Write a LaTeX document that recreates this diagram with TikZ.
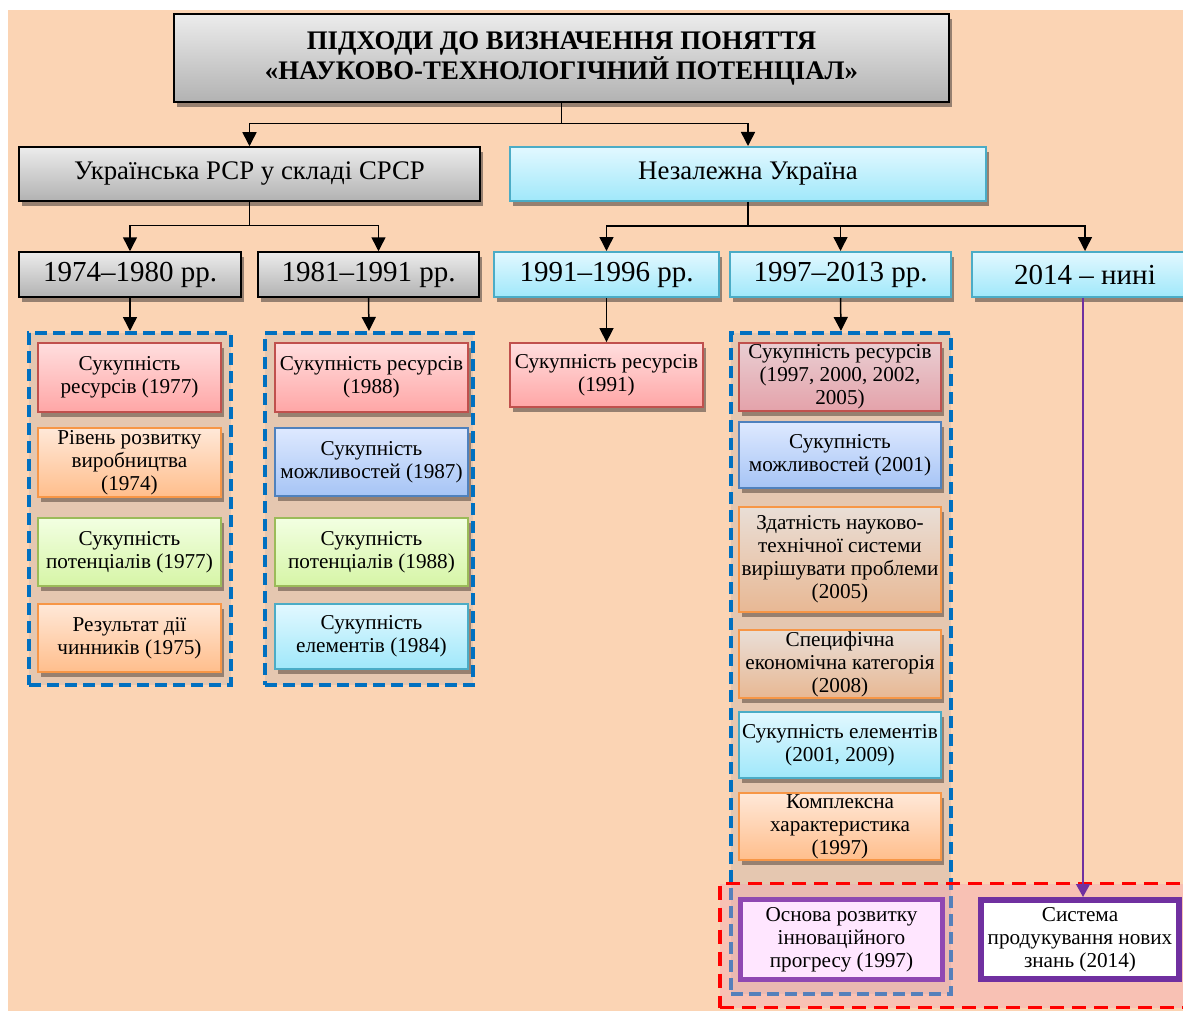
\documentclass[tikz,border=0pt]{standalone}
\usepackage{fontspec}
\setmainfont{Liberation Serif}
\usetikzlibrary{arrows.meta,shadows,calc}
\definecolor{bgpeach}{RGB}{251,212,180}
\definecolor{grpfill}{RGB}{229,199,176}
\definecolor{grpblue}{RGB}{0,112,192}
\definecolor{shadowc}{RGB}{150,128,112}
\definecolor{gtop}{RGB}{236,236,236}
\definecolor{gbot}{RGB}{178,178,178}
\definecolor{ctop}{RGB}{226,248,255}
\definecolor{cbot}{RGB}{160,232,250}
\definecolor{cyanb}{RGB}{75,172,198}
\definecolor{rtop}{RGB}{255,222,222}
\definecolor{rbot}{RGB}{255,166,166}
\definecolor{redb}{RGB}{192,80,77}
\definecolor{otop}{RGB}{255,232,216}
\definecolor{obot}{RGB}{255,190,140}
\definecolor{orab}{RGB}{247,150,70}
\definecolor{gntop}{RGB}{242,255,226}
\definecolor{gnbot}{RGB}{214,245,166}
\definecolor{greenb}{RGB}{155,187,89}
\definecolor{btop}{RGB}{222,233,255}
\definecolor{bbot}{RGB}{166,196,245}
\definecolor{blueb}{RGB}{79,129,189}
\definecolor{mrtop}{RGB}{233,206,210}
\definecolor{mrbot}{RGB}{228,162,170}
\definecolor{motop}{RGB}{233,222,214}
\definecolor{mobot}{RGB}{232,184,148}
\definecolor{redfill}{RGB}{245,160,180}
\definecolor{purp1}{RGB}{143,72,178}
\definecolor{purp2}{RGB}{112,48,160}
\definecolor{pinkfill}{RGB}{255,230,255}
\begin{document}
\begin{tikzpicture}[x=1pt,y=-1pt,
  box/.style={draw, align=center, inner sep=2pt,
    drop shadow={shadow xshift=2.5pt, shadow yshift=-5pt, fill=shadowc, opacity=1}},
  graybox/.style={box, draw=black, line width=1.5pt, top color=gtop, bottom color=gbot},
  cyanbox/.style={box, draw=cyanb, line width=2pt, top color=ctop, bottom color=cbot},
  item/.style={box, inner sep=1pt, line width=1.8pt, font=\fontsize{21.2}{23}\selectfont},
  redi/.style={item, draw=redb, top color=rtop, bottom color=rbot},
  orai/.style={item, draw=orab, top color=otop, bottom color=obot},
  grni/.style={item, draw=greenb, top color=gntop, bottom color=gnbot},
  blui/.style={item, draw=blueb, top color=btop, bottom color=bbot},
  cyni/.style={item, draw=cyanb, top color=ctop, bottom color=cbot},
  mredi/.style={item, draw=redb, top color=mrtop, bottom color=mrbot},
  morai/.style={item, draw=orab, top color=motop, bottom color=mobot},
  grp/.style={draw=grpblue, fill=grpfill, line width=4pt, dash pattern=on 12pt off 6pt, inner sep=0pt},
  yearf/.style={font=\fontsize{29}{32}\selectfont},
  arr/.style={line width=1.5pt, -{Triangle[width=14pt,length=14pt]}},
  ln/.style={line width=1.5pt},
  purpbox/.style={draw, line width=5pt, align=center, inner sep=1pt, font=\fontsize{21.2}{23}\selectfont}
]
\useasboundingbox (0,0) rectangle (1183,1011);
\fill[white] (0,0) rectangle (1183,1011);
\fill[bgpeach] (8,10) rectangle (1183,1011);

% title and top level
\node[graybox, minimum width=775, minimum height=88, font=\bfseries\fontsize{26.8}{30}\selectfont] (title) at (561.5,58)
  {ПІДХОДИ ДО ВИЗНАЧЕННЯ ПОНЯТТЯ\\«НАУКОВО-ТЕХНОЛОГІЧНИЙ ПОТЕНЦІАЛ»};
\node[graybox, minimum width=461, minimum height=54, font=\fontsize{26.8}{30}\selectfont] (ussr) at (249.5,174) {Українська РСР у складі СРСР};
\node[cyanbox, minimum width=476, minimum height=54, font=\fontsize{26.8}{30}\selectfont] (indep) at (748,174) {Незалежна Україна};

% years
\node[graybox, yearf, minimum width=222, minimum height=45] (y1) at (130,274.5) {1974–1980 рр.};
\node[graybox, yearf, minimum width=221, minimum height=45] (y2) at (368.5,274.5) {1981–1991 рр.};
\node[cyanbox, yearf, minimum width=225, minimum height=45] (y3) at (606.5,274.5) {1991–1996 рр.};
\node[cyanbox, yearf, minimum width=221, minimum height=45] (y4) at (840.5,274.5) {1997–2013 рр.};
\node[cyanbox, yearf, minimum width=226, minimum height=45] (y5) at (1085,274.5) {2014 – нині};

% connectors top
\coordinate (t1) at ($(title.south)+(0,21)$);
\draw[ln] (title.south) -- (t1);
\draw[arr] (t1) -| (ussr.north);
\draw[arr] (t1) -| (indep.north);
\coordinate (u1) at ($(ussr.south)+(0,24)$);
\draw[ln] (ussr.south) -- (u1);
\draw[arr] (u1) -| (y1.north);
\draw[arr] (u1) -| ([xshift=10pt]y2.north);
\coordinate (n1) at ($(indep.south)+(0,24)$);
\draw[ln] (indep.south) -- (n1);
\draw[arr] (n1) -| (y3.north);
\draw[arr] (n1) -| (y4.north);
\draw[arr] (n1) -| (y5.north);

% groups
\node[grp, minimum width=202, minimum height=352] (g1) at (130,509) {};
\node[grp, minimum width=208, minimum height=352] (g2) at (369,509) {};
\node[grp, minimum width=220, minimum height=661] (g4) at (841,663.5) {};

\draw[arr] (y1.south) -- (g1.north);
\draw[arr] (y2.south) -- (g2.north);
\draw[arr] (y4.south) -- (g4.north);

% group 1 items
\node[redi, minimum width=183, minimum height=69] (a1) at (129.5,377.5) {Сукупність\\ресурсів (1977)};
\node[orai, minimum width=183, minimum height=69] (a2) at (129.5,462.5) {Рівень розвитку\\виробництва\\(1974)};
\node[grni, minimum width=183, minimum height=68] (a3) at (129.5,552) {Сукупність\\потенціалів (1977)};
\node[orai, minimum width=183, minimum height=68] (a4) at (129.5,638) {Результат дії\\чинників (1975)};

% group 2 items
\node[redi, minimum width=193, minimum height=69] (b1) at (371.5,377.5) {Сукупність ресурсів\\(1988)};
\node[blui, minimum width=193, minimum height=68] (b2) at (371.5,462) {Сукупність\\можливостей (1987)};
\node[grni, minimum width=193, minimum height=68] (b3) at (371.5,552) {Сукупність\\потенціалів (1988)};
\node[cyni, minimum width=193, minimum height=65] (b4) at (371.5,636.5) {Сукупність\\елементів (1984)};

% 1991-1996
\node[redi, minimum width=193, minimum height=64] (c1) at (606.5,375) {Сукупність ресурсів\\(1991)};
\draw[arr] (y3.south) -- (c1.north);

% group 4 items
\node[mredi, minimum width=202, minimum height=68] (d1) at (840,377) {Сукупність ресурсів\\(1997, 2000, 2002,\\2005)};
\node[blui, minimum width=202, minimum height=66] (d2) at (840,455) {Сукупність\\можливостей (2001)};
\node[morai, minimum width=202, minimum height=105] (d3) at (840,559.5) {Здатність науково-\\технічної системи\\вирішувати проблеми\\(2005)};
\node[morai, minimum width=202, minimum height=66] (d4) at (840,664) {Специфічна\\економічна категорія\\(2008)};
\node[cyni, minimum width=202, minimum height=66] (d5) at (840,745) {Сукупність елементів\\(2001, 2009)};
\node[orai, minimum width=202, minimum height=67] (d6) at (840,826.5) {Комплексна\\характеристика\\(1997)};

% red dashed region
\node[draw=red, line width=3.5pt, dash pattern=on 14pt off 8pt, fill=redfill, fill opacity=0.35, minimum width=476, minimum height=124, inner sep=0pt] (rz) at (958,945.5) {};

% bottom purple boxes
\node[purpbox, draw=purp1, fill=pinkfill, minimum width=202, minimum height=80] (p1) at (841.5,939.5) {Основа розвитку\\інноваційного\\прогресу (1997)};
\node[purpbox, draw=purp2, line width=6pt, fill=white, minimum width=198, minimum height=79] (p2) at (1080,939.5) {Система\\продукування нових\\знань (2014)};

\draw[purp2, line width=1.5pt, -{Triangle[width=14pt,length=13pt]}] ([xshift=-2pt]y5.south) -- ([xshift=-2pt]y5.south |- p2.north);
\end{tikzpicture}
\end{document}
